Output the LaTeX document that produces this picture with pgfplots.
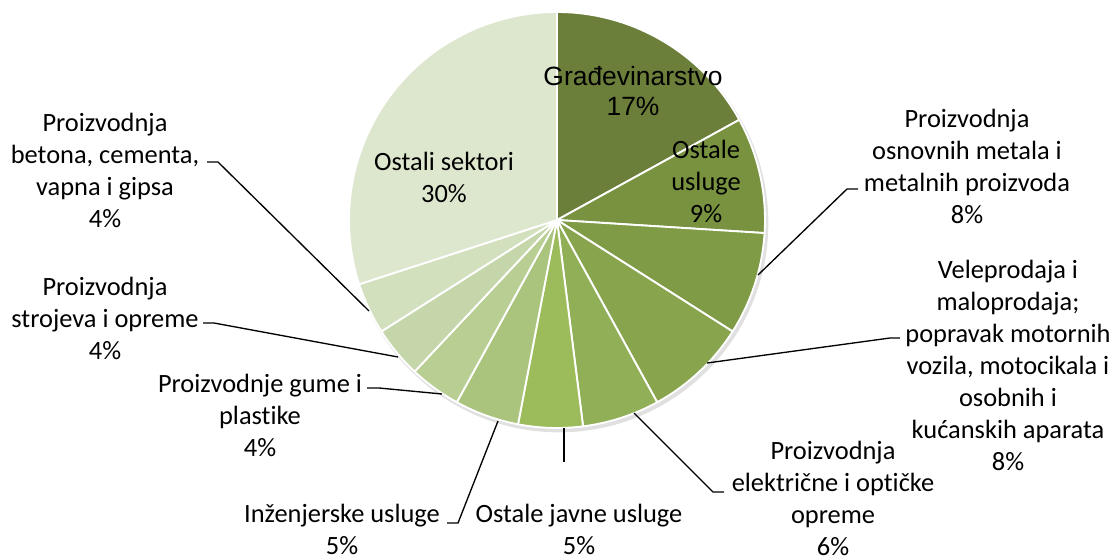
\documentclass[border=0pt]{standalone}
\usepackage{pgfplots}
\pgfplotsset{compat=1.18}
\usepackage{fontspec}
\setmainfont{Carlito}[Ligatures=NoCommon]
\newfontfamily\arialf{Liberation Sans}

\definecolor{c1}{RGB}{107,127,58}
\definecolor{c2}{RGB}{120,146,64}
\definecolor{c3}{RGB}{127,155,70}
\definecolor{c4}{RGB}{136,165,78}
\definecolor{c5}{RGB}{145,175,86}
\definecolor{c6}{RGB}{156,187,90}
\definecolor{c7}{RGB}{170,196,125}
\definecolor{c8}{RGB}{184,206,147}
\definecolor{c9}{RGB}{197,215,170}
\definecolor{c10}{RGB}{210,224,190}
\definecolor{c11}{RGB}{221,231,206}

\tikzset{
  lbl/.style={font=\fontsize{19.8}{24}\selectfont, align=center, text=black, inner sep=0pt},
  albl/.style={font=\arialf\fontsize{19.8}{22.5}\selectfont, align=center, text=black, inner sep=0pt},
  lead/.style={black, line width=1pt},
}

% pie centre (557,220) in pixel units, radius 208 px = 156pt
\gdef\curang{90}
\newcommand\slice[2]{%
  \pgfmathsetmacro\tmpend{\curang-3.6*#1}%
  \edef\tmp{\noexpand\fill[#2, draw=white, line width=1.4pt, line join=round] (axis cs:557,220) -- ++(\curang:156pt) arc[start angle=\curang, end angle=\tmpend, radius=156pt] -- cycle;}%
  \tmp
  \xdef\curang{\tmpend}%
}

\begin{document}
\begin{tikzpicture}
\begin{axis}[
  x=0.75pt, y=0.75pt, y dir=reverse,
  xmin=0, xmax=1118, ymin=0, ymax=560,
  hide axis, clip=false, scale only axis,
]
\addplot[draw=none, forget plot] coordinates {(0,0) (1118,560)};

% soft shadow
\fill[black, opacity=0.12] (axis cs:559,223) circle[radius=157pt];

% data: percentages, clockwise from the top
\slice{17}{c1}  % Gradevinarstvo
\slice{9}{c2}   % Ostale usluge
\slice{8}{c3}   % Proizvodnja osnovnih metala
\slice{8}{c4}   % Veleprodaja i maloprodaja
\slice{6}{c5}   % Proizvodnja elektricne i opticke opreme
\slice{5}{c6}   % Ostale javne usluge
\slice{5}{c7}   % Inzenjerske usluge
\slice{4}{c8}   % Proizvodnje gume i plastike
\slice{4}{c9}   % Proizvodnja strojeva i opreme
\slice{4}{c10}  % Proizvodnja betona
\slice{30}{c11} % Ostali sektori

% leader lines
\draw[lead] (axis cs:207,162) -- (axis cs:218,162) -- (axis cs:369,311);
\draw[lead] (axis cs:203,323) -- (axis cs:214,323) -- (axis cs:398,357);
\draw[lead] (axis cs:367,388) -- (axis cs:379,388) -- (axis cs:442,394);
\draw[lead] (axis cs:447,523) -- (axis cs:458,523) -- (axis cs:498,421);
\draw[lead] (axis cs:564,428) -- (axis cs:564,462);
\draw[lead] (axis cs:634,413) -- (axis cs:713,492) -- (axis cs:724,492);
\draw[lead] (axis cs:707,363) -- (axis cs:890,338) -- (axis cs:900,338);
\draw[lead] (axis cs:758,275) -- (axis cs:847,189) -- (axis cs:858,189);

% inside labels
\node[albl] at (axis cs:633,91) {Građevinarstvo\\17\%};
\node[lbl] at (axis cs:706,181) {Ostale\\usluge\\9\%};
\node[lbl] at (axis cs:444,177) {Ostali sektori\\30\%};

% outside labels
\node[lbl] at (axis cs:105,170) {Proizvodnja\\betona, cementa,\\vapna i gipsa\\4\%};
\node[lbl] at (axis cs:105,318) {Proizvodnja\\strojeva i opreme\\4\%};
\node[lbl] at (axis cs:260,415) {Proizvodnje gume i\\plastike\\4\%};
\node[lbl] at (axis cs:342,529) {Inženjerske usluge\\5\%};
\node[lbl] at (axis cs:579,529) {Ostale javne usluge\\5\%};
\node[lbl] at (axis cs:833,498) {Proizvodnja\\električne i optičke\\opreme\\6\%};
\node[lbl] at (axis cs:1008,365) {Veleprodaja i\\maloprodaja;\\popravak motornih\\vozila, motocikala i\\osobnih i\\kućanskih aparata\\8\%};
\node[lbl] at (axis cs:967,166) {Proizvodnja\\osnovnih metala i\\metalnih proizvoda\\8\%};
\end{axis}
\end{tikzpicture}
\end{document}
